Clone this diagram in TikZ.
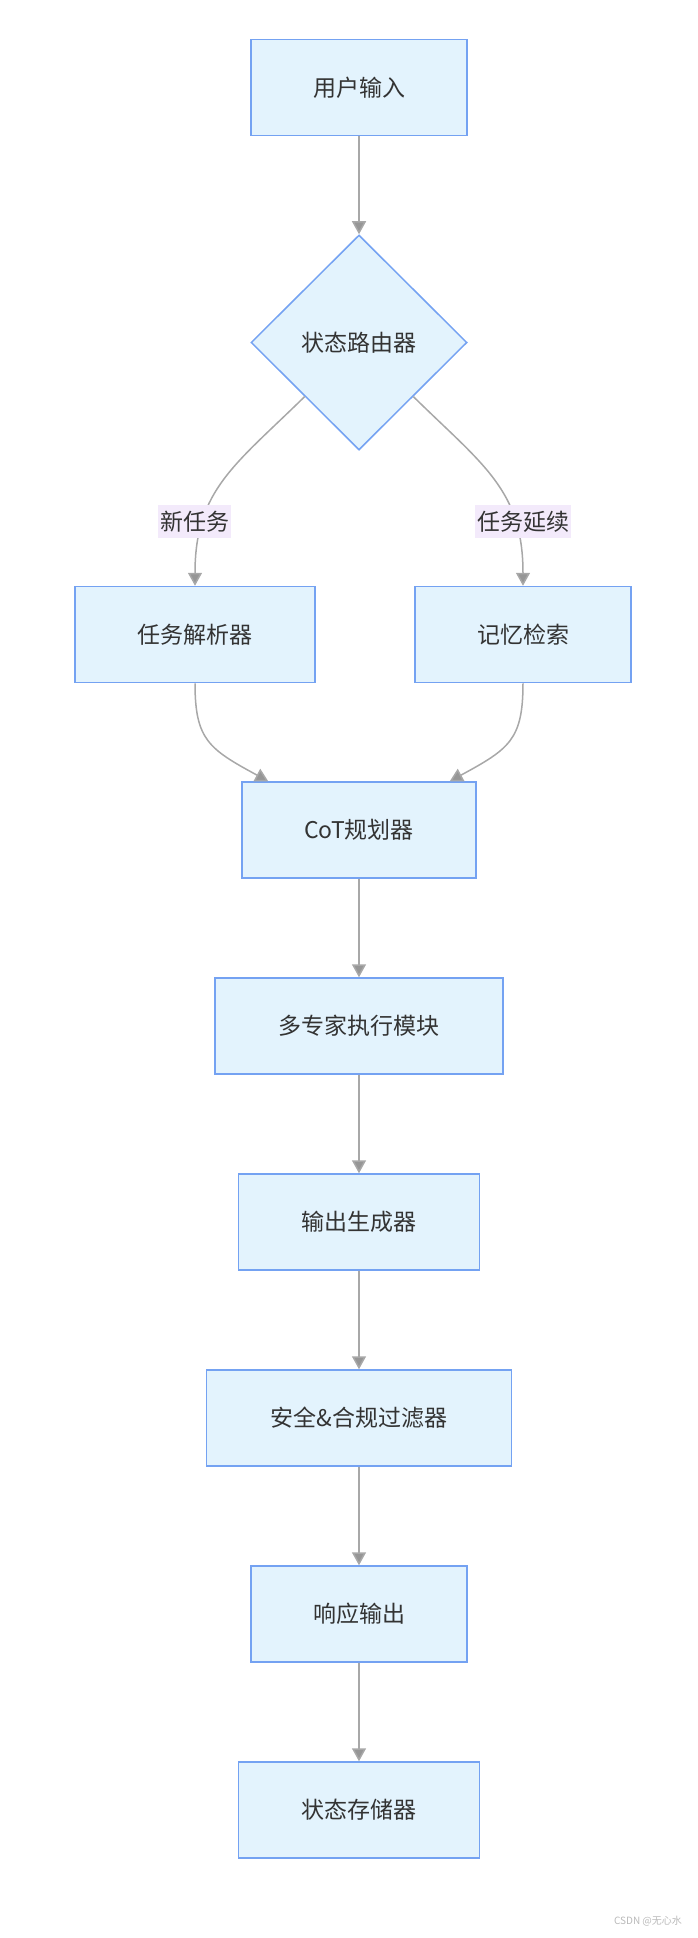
\documentclass[tikz,border=0pt]{standalone}
\usepackage{fontspec}
\setmainfont{Noto Sans CJK SC}
\usetikzlibrary{
    arrows.meta,
    positioning,
    shapes.geometric
}
\definecolor{boxfill}{RGB}{227,243,253}
\definecolor{boxline}{RGB}{116,162,242}
\definecolor{edgegray}{RGB}{168,168,168}
\definecolor{tipgray}{RGB}{150,150,150}
\definecolor{labelbg}{RGB}{243,234,251}
\definecolor{textdark}{RGB}{51,51,51}
\tikzset{
    % Box styles
    stage box/.style={
        draw=boxline,
        fill=boxfill,
        line width=1.5pt,
        rectangle,
        minimum height=96pt,
        inner sep=0pt,
        text=textdark,
        font=\fontsize{23}{27}\selectfont
    },
    router box/.style={
        draw=boxline,
        fill=boxfill,
        line width=1.5pt,
        diamond,
        minimum width=216pt,
        minimum height=215pt,
        inner sep=0pt,
        text=textdark,
        font=\fontsize{23}{27}\selectfont
    },
    % Arrow styles
    flow arrow/.style={
        -{Triangle[length=13pt,width=14pt,fill=tipgray]},
        line width=1.5pt,
        edgegray
    },
    branch label/.style={
        fill=labelbg,
        inner xsep=2pt,
        inner ysep=6pt,
        text=textdark,
        font=\fontsize{23}{27}\selectfont
    }
}

\begin{document}
\begin{tikzpicture}[x=1pt, y=-1pt]
        \useasboundingbox (0,0) rectangle (698,1938);

        % Input and router
        \node[stage box, minimum width=216pt] (input) at (359,87.5) {用户输入};
        \node[router box] (router) at (359,342.5) {状态路由器};
        \draw[flow arrow] (input) -- (router);

        % Branches
        \node[stage box, minimum width=240pt] (parser) at (195,634.5) {任务解析器};
        \node[stage box, minimum width=216pt] (memory) at (523,634.5) {记忆检索};
        \draw[flow arrow] (router.south west) .. controls (235,465) and (195,490) ..
            node[branch label, pos=0.73, xshift=-9pt] (newtask) {新任务} (parser.north);
        \draw[flow arrow] (router.south east) .. controls (483,465) and (523,490) ..
            node[branch label, pos=0.73, xshift=9pt] (continued) {任务延续} (memory.north);

        % Main chain
        \foreach \name/\y/\w/\txt in {cot/830/234/CoT规划器,
                experts/1026/288/多专家执行模块,
                generator/1222/241/输出生成器,
                filter/1418/305/安全\&合规过滤器,
                response/1614/216/响应输出,
                store/1810/241/状态存储器} {
            \node[stage box, minimum width=\w pt] (\name) at (359,\y) {\txt};
        }
        \draw[flow arrow] (parser.south) .. controls (195,740) and (209,749) .. ([xshift=27pt]cot.north west);
        \draw[flow arrow] (memory.south) .. controls (523,740) and (509,749) .. ([xshift=-27pt]cot.north east);
        \foreach \a/\b in {cot/experts, experts/generator, generator/filter, filter/response, response/store} {
            \draw[flow arrow] (\a) -- (\b);
        }

        % Watermark
        \node[text=gray!55, font=\fontsize{10}{12}\selectfont] (mark) at (648,1921) {CSDN @无心水};
    \end{tikzpicture}
\end{document}
